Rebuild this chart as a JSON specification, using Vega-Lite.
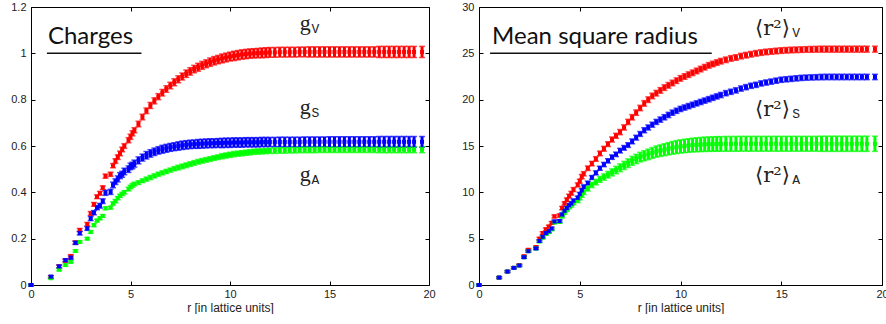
{
"$schema": "https://vega.github.io/schema/vega-lite/v6.json",
"background": "white",
"padding": {"left": 10, "top": 0, "right": 0, "bottom": 0},
"spacing": 25,
"config": {
 "view": {"stroke": "black", "strokeWidth": 1},
 "axis": {"domain": false, "grid": false, "ticks": true, "tickSize": -4, "tickColor": "black", "tickWidth": 1, "labelFont": "Liberation Sans", "labelFontSize": 11, "labelColor": "#222", "labelPadding": 9, "labelFlush": false, "labelOverlap": false, "titleFont": "Liberation Sans", "titleFontSize": 12, "titleFontWeight": "normal", "titleColor": "#222", "titlePadding": 4}
},
"datasets": {
 "c": [
{"r":0,"s":"V","v":0,"e":0.004},{"r":1,"s":"V","v":0.035,"e":0.005},{"r":1.414,"s":"V","v":0.08,"e":0.006},{"r":1.732,"s":"V","v":0.105,"e":0.006},{"r":2,"s":"V","v":0.124,"e":0.007},{"r":2.236,"s":"V","v":0.183,"e":0.007},{"r":2.449,"s":"V","v":0.237,"e":0.007},{"r":2.828,"s":"V","v":0.262,"e":0.008},{"r":3,"s":"V","v":0.309,"e":0.008},{"r":3.162,"s":"V","v":0.348,"e":0.008},{"r":3.317,"s":"V","v":0.381,"e":0.008},{"r":3.464,"s":"V","v":0.396,"e":0.008},{"r":3.606,"s":"V","v":0.42,"e":0.008},{"r":3.742,"s":"V","v":0.47,"e":0.009},{"r":4,"s":"V","v":0.478,"e":0.009},{"r":4.123,"s":"V","v":0.515,"e":0.009},{"r":4.243,"s":"V","v":0.535,"e":0.01},{"r":4.359,"s":"V","v":0.552,"e":0.01},{"r":4.472,"s":"V","v":0.568,"e":0.01},{"r":4.583,"s":"V","v":0.585,"e":0.01},{"r":4.69,"s":"V","v":0.6,"e":0.01},{"r":4.899,"s":"V","v":0.625,"e":0.011},{"r":5,"s":"V","v":0.64,"e":0.011},{"r":5.099,"s":"V","v":0.655,"e":0.011},{"r":5.196,"s":"V","v":0.668,"e":0.011},{"r":5.4,"s":"V","v":0.695,"e":0.012},{"r":5.6,"s":"V","v":0.725,"e":0.012},{"r":5.8,"s":"V","v":0.752,"e":0.012},{"r":6,"s":"V","v":0.775,"e":0.013},{"r":6.2,"s":"V","v":0.795,"e":0.013},{"r":6.4,"s":"V","v":0.813,"e":0.013},{"r":6.6,"s":"V","v":0.83,"e":0.014},{"r":6.8,"s":"V","v":0.846,"e":0.014},{"r":7,"s":"V","v":0.861,"e":0.014},{"r":7.2,"s":"V","v":0.875,"e":0.015},{"r":7.4,"s":"V","v":0.888,"e":0.015},{"r":7.6,"s":"V","v":0.9,"e":0.015},{"r":7.8,"s":"V","v":0.912,"e":0.016},{"r":8,"s":"V","v":0.922,"e":0.016},{"r":8.2,"s":"V","v":0.932,"e":0.016},{"r":8.4,"s":"V","v":0.94,"e":0.017},{"r":8.6,"s":"V","v":0.948,"e":0.017},{"r":8.8,"s":"V","v":0.955,"e":0.017},{"r":9,"s":"V","v":0.962,"e":0.018},{"r":9.2,"s":"V","v":0.968,"e":0.018},{"r":9.4,"s":"V","v":0.973,"e":0.018},{"r":9.6,"s":"V","v":0.978,"e":0.019},{"r":9.8,"s":"V","v":0.982,"e":0.019},{"r":10,"s":"V","v":0.986,"e":0.019},{"r":10.2,"s":"V","v":0.989,"e":0.02},{"r":10.4,"s":"V","v":0.992,"e":0.02},{"r":10.6,"s":"V","v":0.995,"e":0.02},{"r":10.8,"s":"V","v":0.997,"e":0.02},{"r":11,"s":"V","v":0.999,"e":0.02},{"r":11.2,"s":"V","v":1,"e":0.02},{"r":11.4,"s":"V","v":1.001,"e":0.02},{"r":11.6,"s":"V","v":1.002,"e":0.021},{"r":11.8,"s":"V","v":1.003,"e":0.021},{"r":12,"s":"V","v":1.004,"e":0.021},{"r":12.25,"s":"V","v":1.004,"e":0.021},{"r":12.5,"s":"V","v":1.005,"e":0.021},{"r":12.75,"s":"V","v":1.005,"e":0.021},{"r":13,"s":"V","v":1.005,"e":0.021},{"r":13.25,"s":"V","v":1.005,"e":0.021},{"r":13.5,"s":"V","v":1.006,"e":0.021},{"r":13.75,"s":"V","v":1.006,"e":0.021},{"r":14,"s":"V","v":1.006,"e":0.022},{"r":14.25,"s":"V","v":1.006,"e":0.022},{"r":14.5,"s":"V","v":1.006,"e":0.022},{"r":14.75,"s":"V","v":1.006,"e":0.022},{"r":15,"s":"V","v":1.006,"e":0.022},{"r":15.25,"s":"V","v":1.006,"e":0.022},{"r":15.5,"s":"V","v":1.006,"e":0.022},{"r":15.75,"s":"V","v":1.006,"e":0.022},{"r":16,"s":"V","v":1.006,"e":0.022},{"r":16.25,"s":"V","v":1.006,"e":0.022},{"r":16.5,"s":"V","v":1.006,"e":0.022},{"r":16.75,"s":"V","v":1.006,"e":0.022},{"r":17,"s":"V","v":1.006,"e":0.022},{"r":17.25,"s":"V","v":1.006,"e":0.022},{"r":17.5,"s":"V","v":1.006,"e":0.024},{"r":17.75,"s":"V","v":1.006,"e":0.024},{"r":18,"s":"V","v":1.006,"e":0.024},{"r":18.25,"s":"V","v":1.006,"e":0.024},{"r":18.5,"s":"V","v":1.006,"e":0.024},{"r":18.75,"s":"V","v":1.006,"e":0.024},{"r":19,"s":"V","v":1.006,"e":0.024},{"r":19.25,"s":"V","v":1.006,"e":0.024},{"r":19.65,"s":"V","v":1.006,"e":0.024},
{"r":0,"s":"A","v":0,"e":0.003},{"r":1,"s":"A","v":0.029,"e":0.004},{"r":1.414,"s":"A","v":0.066,"e":0.005},{"r":1.732,"s":"A","v":0.086,"e":0.005},{"r":2,"s":"A","v":0.1,"e":0.005},{"r":2.236,"s":"A","v":0.147,"e":0.005},{"r":2.449,"s":"A","v":0.186,"e":0.005},{"r":2.828,"s":"A","v":0.2,"e":0.005},{"r":3,"s":"A","v":0.229,"e":0.006},{"r":3.162,"s":"A","v":0.258,"e":0.006},{"r":3.317,"s":"A","v":0.278,"e":0.006},{"r":3.464,"s":"A","v":0.288,"e":0.006},{"r":3.606,"s":"A","v":0.298,"e":0.006},{"r":3.742,"s":"A","v":0.331,"e":0.006},{"r":4,"s":"A","v":0.334,"e":0.006},{"r":4.123,"s":"A","v":0.352,"e":0.007},{"r":4.243,"s":"A","v":0.362,"e":0.007},{"r":4.359,"s":"A","v":0.375,"e":0.007},{"r":4.472,"s":"A","v":0.385,"e":0.007},{"r":4.583,"s":"A","v":0.393,"e":0.007},{"r":4.69,"s":"A","v":0.4,"e":0.007},{"r":4.899,"s":"A","v":0.414,"e":0.008},{"r":5,"s":"A","v":0.423,"e":0.008},{"r":5.099,"s":"A","v":0.43,"e":0.008},{"r":5.196,"s":"A","v":0.436,"e":0.008},{"r":5.4,"s":"A","v":0.442,"e":0.008},{"r":5.6,"s":"A","v":0.45,"e":0.008},{"r":5.8,"s":"A","v":0.457,"e":0.009},{"r":6,"s":"A","v":0.464,"e":0.009},{"r":6.2,"s":"A","v":0.471,"e":0.009},{"r":6.4,"s":"A","v":0.478,"e":0.009},{"r":6.6,"s":"A","v":0.484,"e":0.009},{"r":6.8,"s":"A","v":0.49,"e":0.009},{"r":7,"s":"A","v":0.496,"e":0.009},{"r":7.2,"s":"A","v":0.502,"e":0.009},{"r":7.4,"s":"A","v":0.507,"e":0.01},{"r":7.6,"s":"A","v":0.512,"e":0.01},{"r":7.8,"s":"A","v":0.517,"e":0.01},{"r":8,"s":"A","v":0.522,"e":0.01},{"r":8.2,"s":"A","v":0.527,"e":0.01},{"r":8.4,"s":"A","v":0.532,"e":0.01},{"r":8.6,"s":"A","v":0.536,"e":0.01},{"r":8.8,"s":"A","v":0.54,"e":0.01},{"r":9,"s":"A","v":0.544,"e":0.01},{"r":9.2,"s":"A","v":0.548,"e":0.01},{"r":9.4,"s":"A","v":0.552,"e":0.01},{"r":9.6,"s":"A","v":0.556,"e":0.011},{"r":9.8,"s":"A","v":0.559,"e":0.011},{"r":10,"s":"A","v":0.562,"e":0.011},{"r":10.2,"s":"A","v":0.565,"e":0.011},{"r":10.4,"s":"A","v":0.567,"e":0.011},{"r":10.6,"s":"A","v":0.569,"e":0.011},{"r":10.8,"s":"A","v":0.571,"e":0.011},{"r":11,"s":"A","v":0.573,"e":0.011},{"r":11.2,"s":"A","v":0.575,"e":0.011},{"r":11.4,"s":"A","v":0.576,"e":0.011},{"r":11.6,"s":"A","v":0.577,"e":0.011},{"r":11.8,"s":"A","v":0.578,"e":0.011},{"r":12,"s":"A","v":0.579,"e":0.011},{"r":12.25,"s":"A","v":0.58,"e":0.012},{"r":12.5,"s":"A","v":0.581,"e":0.012},{"r":12.75,"s":"A","v":0.581,"e":0.012},{"r":13,"s":"A","v":0.582,"e":0.012},{"r":13.25,"s":"A","v":0.582,"e":0.012},{"r":13.5,"s":"A","v":0.583,"e":0.012},{"r":13.75,"s":"A","v":0.583,"e":0.012},{"r":14,"s":"A","v":0.583,"e":0.012},{"r":14.25,"s":"A","v":0.583,"e":0.012},{"r":14.5,"s":"A","v":0.584,"e":0.012},{"r":14.75,"s":"A","v":0.584,"e":0.012},{"r":15,"s":"A","v":0.584,"e":0.012},{"r":15.25,"s":"A","v":0.584,"e":0.012},{"r":15.5,"s":"A","v":0.584,"e":0.012},{"r":15.75,"s":"A","v":0.584,"e":0.012},{"r":16,"s":"A","v":0.584,"e":0.012},{"r":16.25,"s":"A","v":0.584,"e":0.012},{"r":16.5,"s":"A","v":0.584,"e":0.012},{"r":16.75,"s":"A","v":0.584,"e":0.012},{"r":17,"s":"A","v":0.584,"e":0.012},{"r":17.25,"s":"A","v":0.584,"e":0.012},{"r":17.5,"s":"A","v":0.584,"e":0.013},{"r":17.75,"s":"A","v":0.584,"e":0.013},{"r":18,"s":"A","v":0.584,"e":0.013},{"r":18.25,"s":"A","v":0.584,"e":0.013},{"r":18.5,"s":"A","v":0.584,"e":0.013},{"r":18.75,"s":"A","v":0.584,"e":0.013},{"r":19,"s":"A","v":0.584,"e":0.013},{"r":19.25,"s":"A","v":0.584,"e":0.013},{"r":19.65,"s":"A","v":0.584,"e":0.013},
{"r":0,"s":"S","v":0,"e":0.004},{"r":1,"s":"S","v":0.036,"e":0.005},{"r":1.414,"s":"S","v":0.08,"e":0.006},{"r":1.732,"s":"S","v":0.107,"e":0.006},{"r":2,"s":"S","v":0.118,"e":0.007},{"r":2.236,"s":"S","v":0.182,"e":0.007},{"r":2.449,"s":"S","v":0.224,"e":0.008},{"r":2.828,"s":"S","v":0.244,"e":0.008},{"r":3,"s":"S","v":0.287,"e":0.009},{"r":3.162,"s":"S","v":0.312,"e":0.009},{"r":3.317,"s":"S","v":0.334,"e":0.009},{"r":3.464,"s":"S","v":0.342,"e":0.01},{"r":3.606,"s":"S","v":0.362,"e":0.01},{"r":3.742,"s":"S","v":0.398,"e":0.011},{"r":4,"s":"S","v":0.402,"e":0.011},{"r":4.123,"s":"S","v":0.432,"e":0.012},{"r":4.243,"s":"S","v":0.446,"e":0.012},{"r":4.359,"s":"S","v":0.458,"e":0.013},{"r":4.472,"s":"S","v":0.472,"e":0.013},{"r":4.583,"s":"S","v":0.478,"e":0.013},{"r":4.69,"s":"S","v":0.49,"e":0.014},{"r":4.899,"s":"S","v":0.5,"e":0.014},{"r":5,"s":"S","v":0.512,"e":0.014},{"r":5.099,"s":"S","v":0.516,"e":0.014},{"r":5.196,"s":"S","v":0.524,"e":0.015},{"r":5.4,"s":"S","v":0.538,"e":0.015},{"r":5.6,"s":"S","v":0.55,"e":0.015},{"r":5.8,"s":"S","v":0.56,"e":0.016},{"r":6,"s":"S","v":0.568,"e":0.016},{"r":6.2,"s":"S","v":0.575,"e":0.016},{"r":6.4,"s":"S","v":0.581,"e":0.016},{"r":6.6,"s":"S","v":0.586,"e":0.017},{"r":6.8,"s":"S","v":0.59,"e":0.017},{"r":7,"s":"S","v":0.594,"e":0.017},{"r":7.2,"s":"S","v":0.597,"e":0.017},{"r":7.4,"s":"S","v":0.6,"e":0.018},{"r":7.6,"s":"S","v":0.603,"e":0.018},{"r":7.8,"s":"S","v":0.605,"e":0.018},{"r":8,"s":"S","v":0.607,"e":0.018},{"r":8.2,"s":"S","v":0.608,"e":0.018},{"r":8.4,"s":"S","v":0.609,"e":0.019},{"r":8.6,"s":"S","v":0.61,"e":0.019},{"r":8.8,"s":"S","v":0.611,"e":0.019},{"r":9,"s":"S","v":0.612,"e":0.019},{"r":9.2,"s":"S","v":0.612,"e":0.019},{"r":9.4,"s":"S","v":0.613,"e":0.019},{"r":9.6,"s":"S","v":0.613,"e":0.02},{"r":9.8,"s":"S","v":0.614,"e":0.02},{"r":10,"s":"S","v":0.614,"e":0.02},{"r":10.2,"s":"S","v":0.615,"e":0.02},{"r":10.4,"s":"S","v":0.615,"e":0.02},{"r":10.6,"s":"S","v":0.615,"e":0.02},{"r":10.8,"s":"S","v":0.616,"e":0.02},{"r":11,"s":"S","v":0.616,"e":0.02},{"r":11.2,"s":"S","v":0.616,"e":0.02},{"r":11.4,"s":"S","v":0.616,"e":0.02},{"r":11.6,"s":"S","v":0.617,"e":0.02},{"r":11.8,"s":"S","v":0.617,"e":0.02},{"r":12,"s":"S","v":0.617,"e":0.02},{"r":12.25,"s":"S","v":0.617,"e":0.02},{"r":12.5,"s":"S","v":0.617,"e":0.021},{"r":12.75,"s":"S","v":0.617,"e":0.021},{"r":13,"s":"S","v":0.617,"e":0.021},{"r":13.25,"s":"S","v":0.617,"e":0.021},{"r":13.5,"s":"S","v":0.617,"e":0.021},{"r":13.75,"s":"S","v":0.618,"e":0.021},{"r":14,"s":"S","v":0.618,"e":0.021},{"r":14.25,"s":"S","v":0.618,"e":0.021},{"r":14.5,"s":"S","v":0.618,"e":0.021},{"r":14.75,"s":"S","v":0.618,"e":0.021},{"r":15,"s":"S","v":0.618,"e":0.022},{"r":15.25,"s":"S","v":0.618,"e":0.022},{"r":15.5,"s":"S","v":0.618,"e":0.022},{"r":15.75,"s":"S","v":0.618,"e":0.022},{"r":16,"s":"S","v":0.618,"e":0.022},{"r":16.25,"s":"S","v":0.618,"e":0.022},{"r":16.5,"s":"S","v":0.618,"e":0.022},{"r":16.75,"s":"S","v":0.618,"e":0.022},{"r":17,"s":"S","v":0.618,"e":0.022},{"r":17.25,"s":"S","v":0.618,"e":0.022},{"r":17.5,"s":"S","v":0.618,"e":0.023},{"r":17.75,"s":"S","v":0.618,"e":0.023},{"r":18,"s":"S","v":0.618,"e":0.023},{"r":18.25,"s":"S","v":0.618,"e":0.023},{"r":18.5,"s":"S","v":0.618,"e":0.023},{"r":18.75,"s":"S","v":0.618,"e":0.023},{"r":19,"s":"S","v":0.618,"e":0.023},{"r":19.25,"s":"S","v":0.618,"e":0.023},{"r":19.65,"s":"S","v":0.618,"e":0.023}
 ],
 "m": [
{"r":0,"s":"V","v":0,"e":0.1},{"r":1,"s":"V","v":0.8,"e":0.1},{"r":1.414,"s":"V","v":1.45,"e":0.1},{"r":1.732,"s":"V","v":1.85,"e":0.1},{"r":2,"s":"V","v":2.15,"e":0.12},{"r":2.236,"s":"V","v":3.1,"e":0.12},{"r":2.449,"s":"V","v":3.8,"e":0.12},{"r":2.828,"s":"V","v":4.1,"e":0.12},{"r":3,"s":"V","v":5,"e":0.14},{"r":3.162,"s":"V","v":5.6,"e":0.14},{"r":3.317,"s":"V","v":6,"e":0.14},{"r":3.464,"s":"V","v":6.3,"e":0.15},{"r":3.606,"s":"V","v":6.7,"e":0.15},{"r":3.742,"s":"V","v":7.4,"e":0.16},{"r":4,"s":"V","v":7.5,"e":0.17},{"r":4.123,"s":"V","v":8.3,"e":0.18},{"r":4.243,"s":"V","v":8.8,"e":0.18},{"r":4.359,"s":"V","v":9.2,"e":0.19},{"r":4.472,"s":"V","v":9.6,"e":0.2},{"r":4.583,"s":"V","v":9.9,"e":0.2},{"r":4.69,"s":"V","v":10.3,"e":0.21},{"r":4.899,"s":"V","v":10.8,"e":0.22},{"r":5,"s":"V","v":11.2,"e":0.22},{"r":5.099,"s":"V","v":11.7,"e":0.23},{"r":5.196,"s":"V","v":12,"e":0.23},{"r":5.4,"s":"V","v":12.6,"e":0.24},{"r":5.6,"s":"V","v":13.1,"e":0.24},{"r":5.8,"s":"V","v":13.6,"e":0.25},{"r":6,"s":"V","v":14.2,"e":0.25},{"r":6.2,"s":"V","v":14.7,"e":0.26},{"r":6.4,"s":"V","v":15.2,"e":0.26},{"r":6.6,"s":"V","v":15.7,"e":0.27},{"r":6.8,"s":"V","v":16.1,"e":0.27},{"r":7,"s":"V","v":16.5,"e":0.28},{"r":7.2,"s":"V","v":17,"e":0.28},{"r":7.4,"s":"V","v":17.6,"e":0.28},{"r":7.6,"s":"V","v":18.1,"e":0.29},{"r":7.8,"s":"V","v":18.6,"e":0.29},{"r":8,"s":"V","v":19.1,"e":0.29},{"r":8.2,"s":"V","v":19.6,"e":0.3},{"r":8.4,"s":"V","v":20,"e":0.3},{"r":8.6,"s":"V","v":20.4,"e":0.3},{"r":8.8,"s":"V","v":20.7,"e":0.3},{"r":9,"s":"V","v":21,"e":0.3},{"r":9.2,"s":"V","v":21.3,"e":0.3},{"r":9.4,"s":"V","v":21.55,"e":0.3},{"r":9.6,"s":"V","v":21.8,"e":0.3},{"r":9.8,"s":"V","v":22.05,"e":0.3},{"r":10,"s":"V","v":22.3,"e":0.3},{"r":10.2,"s":"V","v":22.5,"e":0.3},{"r":10.4,"s":"V","v":22.7,"e":0.3},{"r":10.6,"s":"V","v":22.9,"e":0.3},{"r":10.8,"s":"V","v":23.1,"e":0.3},{"r":11,"s":"V","v":23.3,"e":0.3},{"r":11.2,"s":"V","v":23.5,"e":0.3},{"r":11.4,"s":"V","v":23.7,"e":0.3},{"r":11.6,"s":"V","v":23.85,"e":0.3},{"r":11.8,"s":"V","v":24,"e":0.3},{"r":12,"s":"V","v":24.15,"e":0.3},{"r":12.25,"s":"V","v":24.3,"e":0.3},{"r":12.5,"s":"V","v":24.45,"e":0.3},{"r":12.75,"s":"V","v":24.55,"e":0.3},{"r":13,"s":"V","v":24.7,"e":0.3},{"r":13.25,"s":"V","v":24.8,"e":0.3},{"r":13.5,"s":"V","v":24.9,"e":0.3},{"r":13.75,"s":"V","v":25,"e":0.3},{"r":14,"s":"V","v":25.08,"e":0.3},{"r":14.25,"s":"V","v":25.15,"e":0.3},{"r":14.5,"s":"V","v":25.2,"e":0.3},{"r":14.75,"s":"V","v":25.25,"e":0.3},{"r":15,"s":"V","v":25.3,"e":0.3},{"r":15.25,"s":"V","v":25.33,"e":0.3},{"r":15.5,"s":"V","v":25.36,"e":0.3},{"r":15.75,"s":"V","v":25.38,"e":0.3},{"r":16,"s":"V","v":25.4,"e":0.3},{"r":16.25,"s":"V","v":25.42,"e":0.3},{"r":16.5,"s":"V","v":25.43,"e":0.31},{"r":16.75,"s":"V","v":25.44,"e":0.31},{"r":17,"s":"V","v":25.45,"e":0.32},{"r":17.25,"s":"V","v":25.45,"e":0.32},{"r":17.5,"s":"V","v":25.45,"e":0.32},{"r":17.75,"s":"V","v":25.45,"e":0.32},{"r":18,"s":"V","v":25.45,"e":0.32},{"r":18.25,"s":"V","v":25.45,"e":0.32},{"r":18.5,"s":"V","v":25.45,"e":0.32},{"r":18.75,"s":"V","v":25.45,"e":0.32},{"r":19,"s":"V","v":25.45,"e":0.32},{"r":19.25,"s":"V","v":25.45,"e":0.32},{"r":19.65,"s":"V","v":25.45,"e":0.32},
{"r":0,"s":"A","v":0,"e":0.1},{"r":1,"s":"A","v":0.8,"e":0.1},{"r":1.414,"s":"A","v":1.45,"e":0.1},{"r":1.732,"s":"A","v":1.85,"e":0.1},{"r":2,"s":"A","v":2.1,"e":0.1},{"r":2.236,"s":"A","v":3,"e":0.12},{"r":2.449,"s":"A","v":3.65,"e":0.12},{"r":2.828,"s":"A","v":3.95,"e":0.12},{"r":3,"s":"A","v":4.7,"e":0.12},{"r":3.162,"s":"A","v":5.1,"e":0.12},{"r":3.317,"s":"A","v":5.5,"e":0.12},{"r":3.464,"s":"A","v":5.7,"e":0.12},{"r":3.606,"s":"A","v":6,"e":0.12},{"r":3.742,"s":"A","v":6.75,"e":0.14},{"r":4,"s":"A","v":6.8,"e":0.14},{"r":4.123,"s":"A","v":7.4,"e":0.15},{"r":4.243,"s":"A","v":7.8,"e":0.16},{"r":4.359,"s":"A","v":8.1,"e":0.17},{"r":4.472,"s":"A","v":8.4,"e":0.18},{"r":4.583,"s":"A","v":8.6,"e":0.19},{"r":4.69,"s":"A","v":8.85,"e":0.2},{"r":4.899,"s":"A","v":9.1,"e":0.21},{"r":5,"s":"A","v":9.4,"e":0.22},{"r":5.099,"s":"A","v":9.7,"e":0.23},{"r":5.196,"s":"A","v":10,"e":0.24},{"r":5.4,"s":"A","v":10.4,"e":0.26},{"r":5.6,"s":"A","v":10.8,"e":0.28},{"r":5.8,"s":"A","v":11.1,"e":0.3},{"r":6,"s":"A","v":11.4,"e":0.32},{"r":6.2,"s":"A","v":11.65,"e":0.34},{"r":6.4,"s":"A","v":11.9,"e":0.36},{"r":6.6,"s":"A","v":12.15,"e":0.38},{"r":6.8,"s":"A","v":12.4,"e":0.4},{"r":7,"s":"A","v":12.65,"e":0.42},{"r":7.2,"s":"A","v":12.9,"e":0.44},{"r":7.4,"s":"A","v":13.15,"e":0.46},{"r":7.6,"s":"A","v":13.4,"e":0.48},{"r":7.8,"s":"A","v":13.6,"e":0.5},{"r":8,"s":"A","v":13.8,"e":0.52},{"r":8.2,"s":"A","v":13.95,"e":0.54},{"r":8.4,"s":"A","v":14.1,"e":0.56},{"r":8.6,"s":"A","v":14.25,"e":0.58},{"r":8.8,"s":"A","v":14.4,"e":0.6},{"r":9,"s":"A","v":14.5,"e":0.62},{"r":9.2,"s":"A","v":14.6,"e":0.64},{"r":9.4,"s":"A","v":14.7,"e":0.66},{"r":9.6,"s":"A","v":14.8,"e":0.68},{"r":9.8,"s":"A","v":14.88,"e":0.7},{"r":10,"s":"A","v":14.95,"e":0.71},{"r":10.2,"s":"A","v":15,"e":0.72},{"r":10.4,"s":"A","v":15.05,"e":0.73},{"r":10.6,"s":"A","v":15.1,"e":0.74},{"r":10.8,"s":"A","v":15.13,"e":0.75},{"r":11,"s":"A","v":15.16,"e":0.76},{"r":11.2,"s":"A","v":15.18,"e":0.77},{"r":11.4,"s":"A","v":15.2,"e":0.78},{"r":11.6,"s":"A","v":15.21,"e":0.78},{"r":11.8,"s":"A","v":15.22,"e":0.79},{"r":12,"s":"A","v":15.22,"e":0.79},{"r":12.25,"s":"A","v":15.23,"e":0.8},{"r":12.5,"s":"A","v":15.23,"e":0.8},{"r":12.75,"s":"A","v":15.23,"e":0.8},{"r":13,"s":"A","v":15.24,"e":0.8},{"r":13.25,"s":"A","v":15.24,"e":0.8},{"r":13.5,"s":"A","v":15.24,"e":0.8},{"r":13.75,"s":"A","v":15.24,"e":0.8},{"r":14,"s":"A","v":15.24,"e":0.8},{"r":14.25,"s":"A","v":15.24,"e":0.8},{"r":14.5,"s":"A","v":15.24,"e":0.8},{"r":14.75,"s":"A","v":15.24,"e":0.8},{"r":15,"s":"A","v":15.24,"e":0.8},{"r":15.25,"s":"A","v":15.24,"e":0.8},{"r":15.5,"s":"A","v":15.24,"e":0.8},{"r":15.75,"s":"A","v":15.24,"e":0.8},{"r":16,"s":"A","v":15.24,"e":0.8},{"r":16.25,"s":"A","v":15.24,"e":0.8},{"r":16.5,"s":"A","v":15.24,"e":0.8},{"r":16.75,"s":"A","v":15.24,"e":0.8},{"r":17,"s":"A","v":15.24,"e":0.82},{"r":17.25,"s":"A","v":15.24,"e":0.82},{"r":17.5,"s":"A","v":15.24,"e":0.82},{"r":17.75,"s":"A","v":15.24,"e":0.82},{"r":18,"s":"A","v":15.24,"e":0.82},{"r":18.25,"s":"A","v":15.24,"e":0.82},{"r":18.5,"s":"A","v":15.24,"e":0.82},{"r":18.75,"s":"A","v":15.24,"e":0.82},{"r":19,"s":"A","v":15.24,"e":0.82},{"r":19.25,"s":"A","v":15.24,"e":0.82},{"r":19.65,"s":"A","v":15.24,"e":0.82},
{"r":0,"s":"S","v":0,"e":0.1},{"r":1,"s":"S","v":0.8,"e":0.1},{"r":1.414,"s":"S","v":1.45,"e":0.1},{"r":1.732,"s":"S","v":1.85,"e":0.1},{"r":2,"s":"S","v":2.1,"e":0.1},{"r":2.236,"s":"S","v":3,"e":0.12},{"r":2.449,"s":"S","v":3.65,"e":0.12},{"r":2.828,"s":"S","v":3.95,"e":0.12},{"r":3,"s":"S","v":4.75,"e":0.13},{"r":3.162,"s":"S","v":5.2,"e":0.13},{"r":3.317,"s":"S","v":5.6,"e":0.13},{"r":3.464,"s":"S","v":5.8,"e":0.14},{"r":3.606,"s":"S","v":6.1,"e":0.14},{"r":3.742,"s":"S","v":6.85,"e":0.15},{"r":4,"s":"S","v":6.9,"e":0.15},{"r":4.123,"s":"S","v":7.6,"e":0.16},{"r":4.243,"s":"S","v":8,"e":0.16},{"r":4.359,"s":"S","v":8.3,"e":0.17},{"r":4.472,"s":"S","v":8.6,"e":0.17},{"r":4.583,"s":"S","v":8.8,"e":0.18},{"r":4.69,"s":"S","v":9.1,"e":0.18},{"r":4.899,"s":"S","v":9.4,"e":0.19},{"r":5,"s":"S","v":9.8,"e":0.19},{"r":5.099,"s":"S","v":10.2,"e":0.2},{"r":5.196,"s":"S","v":10.6,"e":0.2},{"r":5.4,"s":"S","v":11,"e":0.21},{"r":5.6,"s":"S","v":11.6,"e":0.21},{"r":5.8,"s":"S","v":12.1,"e":0.22},{"r":6,"s":"S","v":12.6,"e":0.22},{"r":6.2,"s":"S","v":13,"e":0.23},{"r":6.4,"s":"S","v":13.4,"e":0.23},{"r":6.6,"s":"S","v":13.8,"e":0.24},{"r":6.8,"s":"S","v":14.1,"e":0.24},{"r":7,"s":"S","v":14.5,"e":0.25},{"r":7.2,"s":"S","v":14.8,"e":0.25},{"r":7.4,"s":"S","v":15.1,"e":0.25},{"r":7.6,"s":"S","v":15.5,"e":0.26},{"r":7.8,"s":"S","v":15.9,"e":0.26},{"r":8,"s":"S","v":16.3,"e":0.26},{"r":8.2,"s":"S","v":16.7,"e":0.27},{"r":8.4,"s":"S","v":17,"e":0.27},{"r":8.6,"s":"S","v":17.3,"e":0.27},{"r":8.8,"s":"S","v":17.6,"e":0.27},{"r":9,"s":"S","v":17.85,"e":0.28},{"r":9.2,"s":"S","v":18.1,"e":0.28},{"r":9.4,"s":"S","v":18.35,"e":0.28},{"r":9.6,"s":"S","v":18.6,"e":0.28},{"r":9.8,"s":"S","v":18.8,"e":0.28},{"r":10,"s":"S","v":19,"e":0.28},{"r":10.2,"s":"S","v":19.15,"e":0.28},{"r":10.4,"s":"S","v":19.3,"e":0.28},{"r":10.6,"s":"S","v":19.45,"e":0.28},{"r":10.8,"s":"S","v":19.6,"e":0.28},{"r":11,"s":"S","v":19.75,"e":0.28},{"r":11.2,"s":"S","v":19.9,"e":0.28},{"r":11.4,"s":"S","v":20.05,"e":0.28},{"r":11.6,"s":"S","v":20.2,"e":0.28},{"r":11.8,"s":"S","v":20.35,"e":0.28},{"r":12,"s":"S","v":20.5,"e":0.28},{"r":12.25,"s":"S","v":20.7,"e":0.28},{"r":12.5,"s":"S","v":20.85,"e":0.28},{"r":12.75,"s":"S","v":21,"e":0.28},{"r":13,"s":"S","v":21.2,"e":0.28},{"r":13.25,"s":"S","v":21.35,"e":0.28},{"r":13.5,"s":"S","v":21.5,"e":0.28},{"r":13.75,"s":"S","v":21.6,"e":0.28},{"r":14,"s":"S","v":21.75,"e":0.28},{"r":14.25,"s":"S","v":21.85,"e":0.28},{"r":14.5,"s":"S","v":21.95,"e":0.28},{"r":14.75,"s":"S","v":22.05,"e":0.28},{"r":15,"s":"S","v":22.15,"e":0.28},{"r":15.25,"s":"S","v":22.2,"e":0.28},{"r":15.5,"s":"S","v":22.25,"e":0.28},{"r":15.75,"s":"S","v":22.3,"e":0.28},{"r":16,"s":"S","v":22.35,"e":0.28},{"r":16.25,"s":"S","v":22.38,"e":0.28},{"r":16.5,"s":"S","v":22.4,"e":0.28},{"r":16.75,"s":"S","v":22.42,"e":0.28},{"r":17,"s":"S","v":22.44,"e":0.29},{"r":17.25,"s":"S","v":22.45,"e":0.29},{"r":17.5,"s":"S","v":22.45,"e":0.29},{"r":17.75,"s":"S","v":22.45,"e":0.29},{"r":18,"s":"S","v":22.45,"e":0.29},{"r":18.25,"s":"S","v":22.45,"e":0.29},{"r":18.5,"s":"S","v":22.45,"e":0.29},{"r":18.75,"s":"S","v":22.45,"e":0.29},{"r":19,"s":"S","v":22.45,"e":0.29},{"r":19.25,"s":"S","v":22.45,"e":0.29},{"r":19.65,"s":"S","v":22.45,"e":0.29}
 ]
},
"hconcat": [
 {
  "width": 398, "height": 278,
  "resolve": {"axis": {"x": "independent", "y": "independent"}},
  "layer": [
   {"data": {"name": "c"}, "mark": {"type": "errorbar", "thickness": 3, "ticks": {"size": 6, "thickness": 1.5}},
    "encoding": {
     "x": {"field": "r", "type": "quantitative", "scale": {"domain": [0, 20], "nice": false}, "axis": {"title": "r [in lattice units]", "values": [0, 5, 10, 15, 20], "labelPadding": 7, "titlePadding": 3}},
     "y": {"field": "v", "type": "quantitative", "scale": {"domain": [0, 1.2], "nice": false}, "axis": {"title": null, "values": [0, 0.2, 0.4, 0.6, 0.8, 1, 1.2], "format": "~g"}},
     "yError": {"field": "e"},
     "color": {"field": "s", "type": "nominal", "scale": {"domain": ["V", "S", "A"], "range": ["#ff0000", "#0000ff", "#00ff00"]}, "legend": null}
    }},
   {"data": {"name": "c"}, "mark": {"type": "point", "shape": "square", "filled": true, "size": 16, "opacity": 1},
    "encoding": {
     "x": {"field": "r", "type": "quantitative", "scale": {"domain": [0, 20], "nice": false}, "axis": null},
     "y": {"field": "v", "type": "quantitative", "scale": {"domain": [0, 1.2], "nice": false}, "axis": null},
     "color": {"field": "s", "type": "nominal", "scale": {"domain": ["V", "S", "A"], "range": ["#ff0000", "#0000ff", "#00ff00"]}, "legend": null}
    }},
   {"data": {"values": [{"r": 0.85, "v": 1.04, "t": "Charges"}]},
    "mark": {"type": "text", "font": "Lato", "fontSize": 24, "align": "left", "baseline": "alphabetic", "color": "#111"},
    "encoding": {
     "x": {"field": "r", "type": "quantitative", "scale": {"domain": [0, 20], "nice": false}, "axis": {"orient": "top", "labels": false, "title": null, "values": [0, 5, 10, 15, 20]}},
     "y": {"field": "v", "type": "quantitative", "scale": {"domain": [0, 1.2], "nice": false}, "axis": {"orient": "right", "labels": false, "title": null, "values": [0, 0.2, 0.4, 0.6, 0.8, 1, 1.2]}},
     "text": {"field": "t"}
    }},
   {"data": {"values": [{"r": 0.8, "r2": 5.55, "v": 1.0}]},
    "mark": {"type": "rule", "color": "#111", "strokeWidth": 1.5},
    "encoding": {
     "x": {"field": "r", "type": "quantitative", "scale": {"domain": [0, 20], "nice": false}, "axis": null},
     "x2": {"field": "r2"},
     "y": {"field": "v", "type": "quantitative", "scale": {"domain": [0, 1.2], "nice": false}, "axis": null}
    }},
   {"data": {"values": [{"r": 13.5, "v": 1.1, "t": "g"}, {"r": 13.5, "v": 0.738, "t": "g"}, {"r": 13.5, "v": 0.449, "t": "g"}]},
    "mark": {"type": "text", "font": "Liberation Serif", "fontSize": 22, "align": "left", "baseline": "alphabetic", "color": "#222"},
    "encoding": {
     "x": {"field": "r", "type": "quantitative", "scale": {"domain": [0, 20], "nice": false}, "axis": null},
     "y": {"field": "v", "type": "quantitative", "scale": {"domain": [0, 1.2], "nice": false}, "axis": null},
     "text": {"field": "t"}
    }},
   {"data": {"values": [{"r": 14.1, "v": 1.087, "t": "V"}, {"r": 14.1, "v": 0.725, "t": "S"}, {"r": 14.1, "v": 0.436, "t": "A"}]},
    "mark": {"type": "text", "font": "Liberation Mono", "fontSize": 13, "align": "left", "baseline": "alphabetic", "color": "#222"},
    "encoding": {
     "x": {"field": "r", "type": "quantitative", "scale": {"domain": [0, 20], "nice": false}, "axis": null},
     "y": {"field": "v", "type": "quantitative", "scale": {"domain": [0, 1.2], "nice": false}, "axis": null},
     "text": {"field": "t"}
    }}
  ]
 },
 {
  "width": 403, "height": 278,
  "resolve": {"axis": {"x": "independent", "y": "independent"}},
  "layer": [
   {"data": {"name": "m"}, "mark": {"type": "errorbar", "thickness": 3, "ticks": {"size": 6, "thickness": 1.5}},
    "encoding": {
     "x": {"field": "r", "type": "quantitative", "scale": {"domain": [0, 20], "nice": false}, "axis": {"title": "r [in lattice units]", "values": [0, 5, 10, 15, 20], "labelPadding": 7, "titlePadding": 3}},
     "y": {"field": "v", "type": "quantitative", "scale": {"domain": [0, 30], "nice": false}, "axis": {"title": null, "values": [0, 5, 10, 15, 20, 25, 30]}},
     "yError": {"field": "e"},
     "color": {"field": "s", "type": "nominal", "scale": {"domain": ["V", "S", "A"], "range": ["#ff0000", "#0000ff", "#00ff00"]}, "legend": null}
    }},
   {"data": {"name": "m"}, "mark": {"type": "point", "shape": "square", "filled": true, "size": 16, "opacity": 1},
    "encoding": {
     "x": {"field": "r", "type": "quantitative", "scale": {"domain": [0, 20], "nice": false}, "axis": null},
     "y": {"field": "v", "type": "quantitative", "scale": {"domain": [0, 30], "nice": false}, "axis": null},
     "color": {"field": "s", "type": "nominal", "scale": {"domain": ["V", "S", "A"], "range": ["#ff0000", "#0000ff", "#00ff00"]}, "legend": null}
    }},
   {"data": {"values": [{"r": 0.65, "v": 26.0, "t": "Mean square radius"}]},
    "mark": {"type": "text", "font": "Lato", "fontSize": 24, "align": "left", "baseline": "alphabetic", "color": "#111"},
    "encoding": {
     "x": {"field": "r", "type": "quantitative", "scale": {"domain": [0, 20], "nice": false}, "axis": {"orient": "top", "labels": false, "title": null, "values": [0, 5, 10, 15, 20]}},
     "y": {"field": "v", "type": "quantitative", "scale": {"domain": [0, 30], "nice": false}, "axis": {"orient": "right", "labels": false, "title": null, "values": [0, 5, 10, 15, 20, 25, 30]}},
     "text": {"field": "t"}
    }},
   {"data": {"values": [{"r": 0.55, "r2": 11.55, "v": 25.0}]},
    "mark": {"type": "rule", "color": "#111", "strokeWidth": 1.5},
    "encoding": {
     "x": {"field": "r", "type": "quantitative", "scale": {"domain": [0, 20], "nice": false}, "axis": null},
     "x2": {"field": "r2"},
     "y": {"field": "v", "type": "quantitative", "scale": {"domain": [0, 30], "nice": false}, "axis": null}
    }},
   {"data": {"values": [{"r": 13.7, "v": 27.0, "t": "⟨r²⟩"}, {"r": 13.7, "v": 18.25, "t": "⟨r²⟩"}, {"r": 13.7, "v": 11.1, "t": "⟨r²⟩"}]},
    "mark": {"type": "text", "font": "DejaVu Serif", "fontSize": 21, "align": "left", "baseline": "alphabetic", "color": "#222"},
    "encoding": {
     "x": {"field": "r", "type": "quantitative", "scale": {"domain": [0, 20], "nice": false}, "axis": null},
     "y": {"field": "v", "type": "quantitative", "scale": {"domain": [0, 30], "nice": false}, "axis": null},
     "text": {"field": "t"}
    }},
   {"data": {"values": [{"r": 15.55, "v": 26.75, "t": "V"}, {"r": 15.55, "v": 18.0, "t": "S"}, {"r": 15.55, "v": 10.85, "t": "A"}]},
    "mark": {"type": "text", "font": "Liberation Mono", "fontSize": 13, "align": "left", "baseline": "alphabetic", "color": "#222"},
    "encoding": {
     "x": {"field": "r", "type": "quantitative", "scale": {"domain": [0, 20], "nice": false}, "axis": null},
     "y": {"field": "v", "type": "quantitative", "scale": {"domain": [0, 30], "nice": false}, "axis": null},
     "text": {"field": "t"}
    }}
  ]
 }
]
}
